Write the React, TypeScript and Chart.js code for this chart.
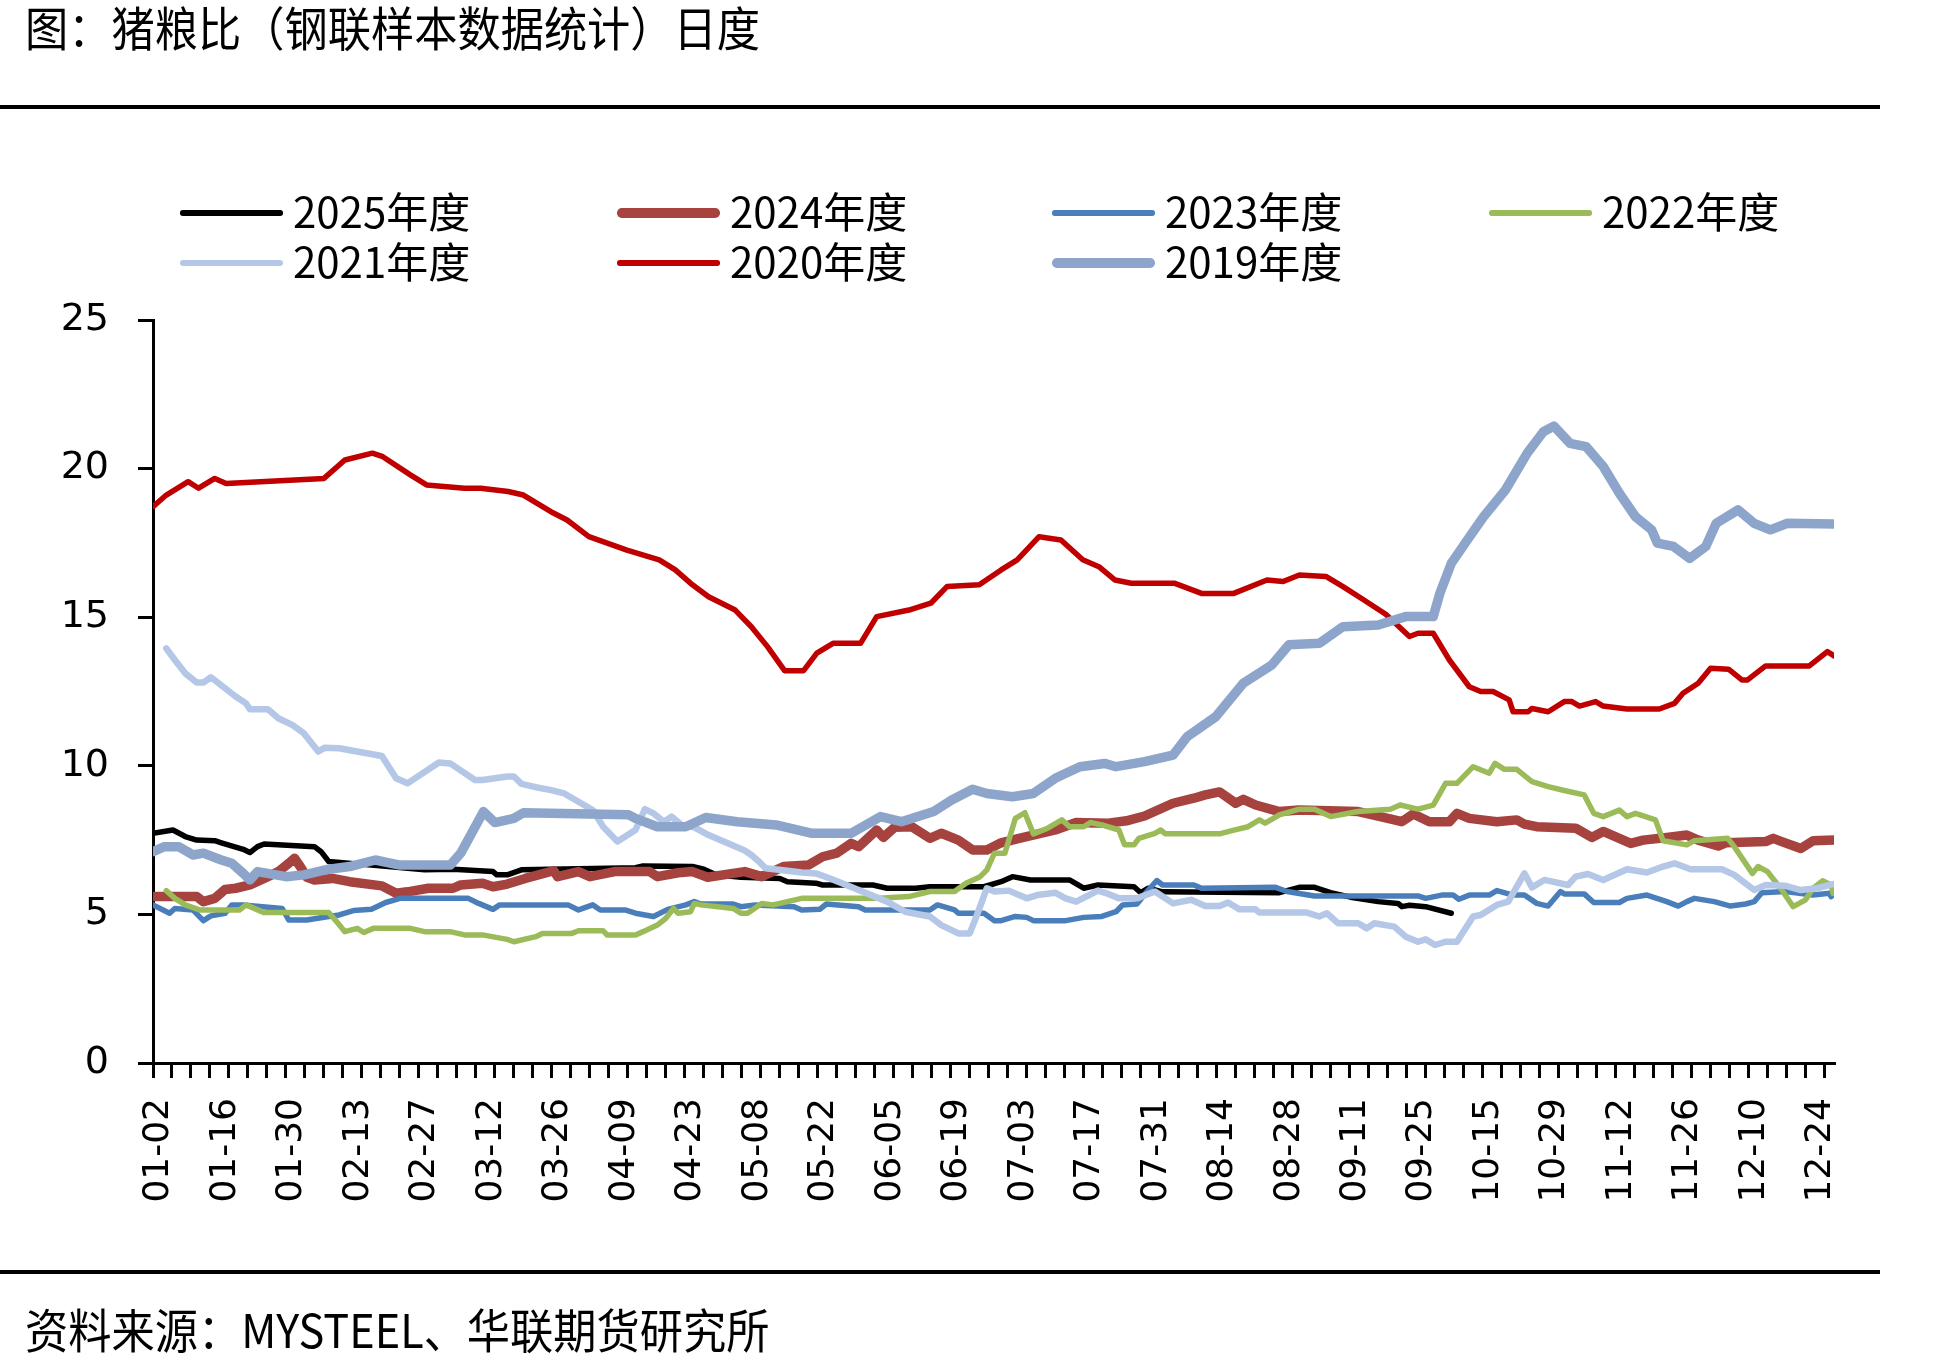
import React, { useEffect, useRef } from 'react';
import { Chart, registerables } from 'chart.js';

Chart.register(...registerables);

// ---------- DATA ----------
const xTickLabels = [
  '01-02', '01-16', '01-30', '02-13', '02-27', '03-12', '03-26', '04-09', '04-23',
  '05-08', '05-22', '06-05', '06-19', '07-03', '07-17', '07-31', '08-14', '08-28',
  '09-11', '09-25', '10-15', '10-29', '11-12', '11-26', '12-10', '12-24',
];
const LABEL_EVERY = 7; // one date label every 7 categories
const TICK_EVERY = 2; // one tick mark every 2 categories
const X_LAST = 177; // last category index

const seriesNames = ['2025年度', '2024年度', '2023年度', '2022年度', '2021年度', '2020年度', '2019年度'];

const s2025: [number, number][] = [
  [0, 7.73], [2.1, 7.84], [3.4, 7.62], [4.6, 7.5], [6.5, 7.48], [7.2, 7.41], [9.5, 7.19], [10.2, 7.08],
  [11, 7.28], [11.7, 7.37], [17, 7.28], [17.7, 7.11], [18.5, 6.78], [21.5, 6.7], [28.6, 6.5], [31.6, 6.52],
  [35.8, 6.44], [36.2, 6.33], [37.3, 6.33], [38.8, 6.5], [50.8, 6.57], [51.6, 6.63], [56.8, 6.61], [58, 6.52],
  [59.3, 6.33], [61.9, 6.25], [66, 6.21], [66.8, 6.1], [69.8, 6.05], [70.5, 5.99], [75.8, 5.99], [77.3, 5.88],
  [80.3, 5.88], [81.8, 5.93], [87.5, 5.93], [89.3, 6.1], [90.5, 6.27], [92.4, 6.16], [96.5, 6.16], [98, 5.88],
  [99.5, 5.99], [103.3, 5.93], [104, 5.73], [104.8, 5.88], [106.3, 5.76], [118.6, 5.73], [120.7, 5.91],
  [122.3, 5.91], [124, 5.73], [126.1, 5.58], [129, 5.43], [131.1, 5.37], [131.5, 5.26], [132.3, 5.31],
  [134, 5.26], [136.7, 5.04],
];

const s2024: [number, number][] = [
  [0, 5.6], [4.6, 5.6], [5.3, 5.43], [6.5, 5.54], [7.6, 5.84], [8.7, 5.88], [10.2, 5.99], [11.7, 6.21],
  [13.2, 6.44], [14.3, 6.72], [14.9, 6.89], [15.5, 6.61], [16.2, 6.25], [17, 6.16], [18.9, 6.21], [20.7, 6.1],
  [24.1, 5.96], [25.6, 5.71], [26.8, 5.76], [29, 5.88], [31.6, 5.88], [32.4, 5.99], [34.7, 6.05], [35.8, 5.93],
  [37.3, 6.02], [39.2, 6.21], [42.2, 6.47], [42.6, 6.27], [44.8, 6.44], [46, 6.27], [48.6, 6.44], [52.3, 6.44],
  [53.1, 6.27], [55.3, 6.4], [56.8, 6.44], [58.4, 6.25], [62.3, 6.44], [64.1, 6.27], [66.4, 6.61], [69, 6.66],
  [70.5, 6.94], [72, 7.06], [73.5, 7.39], [74.3, 7.28], [76.2, 7.84], [76.9, 7.59], [78.1, 7.93], [79.9, 7.95],
  [81.8, 7.56], [83, 7.73], [84.8, 7.5], [86.3, 7.17], [87.8, 7.17], [89.3, 7.41], [91.2, 7.56], [95, 7.84],
  [97.2, 8.09], [100.6, 8.07], [102.5, 8.15], [104.4, 8.31], [107.4, 8.74], [109.6, 8.91], [110.8, 9.02],
  [112.3, 9.12], [114, 8.74], [114.8, 8.87], [116.1, 8.68], [118.6, 8.46], [120.7, 8.51], [126.9, 8.46],
  [129, 8.31], [131.5, 8.12], [132.7, 8.38], [134.4, 8.12], [136.5, 8.12], [137.3, 8.4], [138.6, 8.23],
  [141.5, 8.12], [143.6, 8.18], [144.4, 8.04], [145.7, 7.95], [149.8, 7.9], [151.5, 7.59], [152.7, 7.79],
  [155.6, 7.39], [156.9, 7.5], [159.4, 7.59], [161.5, 7.67], [162.7, 7.5], [164.8, 7.3], [165.6, 7.41],
  [169.8, 7.45], [170.6, 7.56], [171.5, 7.45], [173.5, 7.22], [174.8, 7.48], [177, 7.5],
];

const s2023: [number, number][] = [
  [0, 5.32], [1.75, 5.04], [2.3, 5.2], [4.2, 5.15], [5.3, 4.79], [6.1, 4.95], [7.6, 5.04], [8.3, 5.32],
  [9.5, 5.32], [13.6, 5.2], [14.3, 4.81], [16.2, 4.81], [18.5, 4.93], [19.6, 4.98], [21.1, 5.13], [23, 5.17],
  [24.5, 5.4], [26, 5.54], [33.2, 5.54], [34.3, 5.37], [35.8, 5.17], [36.5, 5.32], [43.7, 5.32], [44.8, 5.15],
  [46.3, 5.32], [47.1, 5.15], [49.7, 5.15], [50.8, 5.04], [52.7, 4.93], [54.2, 5.17], [56.1, 5.32], [57, 5.43],
  [57.7, 5.35], [61.1, 5.35], [61.9, 5.26], [63.4, 5.32], [67.5, 5.26], [68.3, 5.15], [70.2, 5.17],
  [70.9, 5.35], [74.3, 5.26], [75, 5.15], [81.8, 5.15], [82.6, 5.32], [84.4, 5.15], [84.8, 5.04], [87.5, 5.04],
  [88.6, 4.79], [89.3, 4.79], [90.8, 4.93], [92, 4.9], [92.7, 4.79], [96.1, 4.79], [98, 4.9], [99.9, 4.93],
  [101.4, 5.09], [102.1, 5.32], [103.6, 5.35], [104.8, 5.82], [105.7, 6.14], [106.3, 5.99], [109.6, 5.99],
  [110.4, 5.88], [118.2, 5.91], [119.4, 5.77], [122.3, 5.62], [133.2, 5.62], [134, 5.54], [135.7, 5.65],
  [136.9, 5.65], [137.5, 5.51], [138.6, 5.65], [140.7, 5.65], [141.5, 5.8], [143.2, 5.65], [144.4, 5.65],
  [145.7, 5.37], [146.9, 5.28], [148.2, 5.77], [148.6, 5.69], [150.7, 5.69], [151.7, 5.4], [154.4, 5.4],
  [155.2, 5.54], [157.3, 5.65], [159.4, 5.43], [160.6, 5.28], [161.5, 5.43], [162.3, 5.54], [164.4, 5.43],
  [166.1, 5.28], [167.7, 5.35], [168.6, 5.43], [169.4, 5.73], [171.9, 5.77], [174.8, 5.65], [176.5, 5.71],
  [176.7, 5.6],
];

const s2022: [number, number][] = [
  [1.4, 5.8], [2.3, 5.54], [3.4, 5.32], [4.9, 5.15], [9.1, 5.15], [9.8, 5.32], [11.7, 5.06], [18.5, 5.06],
  [19.2, 4.81], [20.2, 4.42], [21.5, 4.53], [22.2, 4.39], [23.2, 4.53], [27.1, 4.53], [28.6, 4.42],
  [31.3, 4.42], [32.8, 4.31], [34.7, 4.31], [37.3, 4.16], [38, 4.08], [40.3, 4.25], [41, 4.36], [44.1, 4.36],
  [44.8, 4.45], [47.4, 4.45], [47.8, 4.31], [50.8, 4.31], [51.6, 4.42], [53.1, 4.64], [54, 4.87], [54.8, 5.2],
  [55.3, 5.04], [56.6, 5.09], [57, 5.37], [57.7, 5.32], [61.1, 5.2], [61.9, 5.04], [62.6, 5.04], [64.1, 5.37],
  [65.3, 5.32], [68.3, 5.54], [76.5, 5.54], [79.6, 5.6], [81.8, 5.77], [84.4, 5.77], [85.6, 6.05], [87.1, 6.27],
  [87.8, 6.5], [88.6, 7.06], [89.7, 7.06], [90.8, 8.23], [91.8, 8.42], [92.7, 7.71], [94.2, 7.9], [95.7, 8.18],
  [96.5, 7.95], [98, 7.95], [98.7, 8.09], [99.9, 8.01], [101.7, 7.84], [102.3, 7.34], [103.3, 7.34],
  [103.8, 7.56], [105.5, 7.73], [106.1, 7.84], [106.6, 7.71], [112.3, 7.71], [113.6, 7.82], [115.3, 7.95],
  [116.5, 8.18], [117.1, 8.07], [118.6, 8.35], [120.7, 8.54], [122.3, 8.54], [124, 8.29], [126.9, 8.46],
  [130.3, 8.54], [131.3, 8.68], [133.2, 8.54], [134.8, 8.68], [136.1, 9.41], [137.3, 9.41], [139, 9.97],
  [140.7, 9.75], [141.3, 10.08], [142.3, 9.88], [143.6, 9.88], [145.2, 9.47], [146.9, 9.3], [148.6, 9.17],
  [150.7, 9.02], [151.7, 8.4], [152.7, 8.29], [154.4, 8.51], [155.2, 8.29], [156.1, 8.4], [158.2, 8.18],
  [159, 7.48], [161.5, 7.34], [162.3, 7.48], [165.8, 7.56], [166.5, 7.28], [168.4, 6.38], [169, 6.61],
  [170, 6.44], [171.5, 5.82], [172.7, 5.26], [174, 5.49], [174.8, 5.88], [175.8, 6.13], [176.7, 5.99],
  [176.9, 5.71],
];

const s2021: [number, number][] = [
  [1.4, 13.95], [2.3, 13.56], [3.4, 13.11], [4.6, 12.8], [5.3, 12.8], [6.1, 12.98], [8.7, 12.33], [9.8, 12.1],
  [10.2, 11.9], [12.1, 11.9], [13.2, 11.6], [14.7, 11.37], [15.9, 11.09], [17.4, 10.48], [18.1, 10.61],
  [19.6, 10.59], [24.1, 10.33], [25.6, 9.58], [26.8, 9.41], [30.1, 10.11], [31.3, 10.08], [33.9, 9.52],
  [34.7, 9.52], [37.3, 9.64], [38, 9.64], [38.8, 9.39], [40.3, 9.28], [41.8, 9.19], [43.3, 9.07], [44.8, 8.79],
  [46.3, 8.51], [47.4, 7.95], [48.9, 7.45], [50.8, 7.84], [51.8, 8.54], [52.7, 8.4], [53.8, 8.12], [54.6, 8.29],
  [55.7, 8.0], [57, 7.93], [58.5, 7.67], [60.4, 7.41], [62.3, 7.15], [63, 7.0], [63.8, 6.78], [64.5, 6.55],
  [66.8, 6.47], [68.3, 6.41], [69.8, 6.38], [71.3, 6.21], [74.3, 5.82], [77.3, 5.43], [79.2, 5.09], [81.8, 4.93],
  [83, 4.64], [84.8, 4.36], [86, 4.36], [86.7, 4.93], [87.8, 5.88], [88.6, 5.77], [90.1, 5.8], [92, 5.54],
  [93.1, 5.65], [95, 5.73], [96.1, 5.54], [97.2, 5.43], [99.5, 5.8], [100.6, 5.69], [101.7, 5.54],
  [103.6, 5.54], [105.5, 5.77], [107.4, 5.37], [109.3, 5.49], [110.8, 5.28], [112.3, 5.28], [113.2, 5.4],
  [114.4, 5.17], [116.1, 5.17], [116.5, 5.06], [121.5, 5.06], [122.8, 4.93], [123.6, 5.04], [124.8, 4.7],
  [126.9, 4.7], [127.8, 4.53], [128.6, 4.7], [130.7, 4.59], [131.9, 4.25], [133.2, 4.08], [134, 4.16],
  [135, 3.97], [136.1, 4.08], [137.3, 4.08], [139, 4.93], [139.8, 4.98], [141.5, 5.32], [142.7, 5.43],
  [144.4, 6.38], [145.2, 5.91], [146.5, 6.16], [149, 5.99], [149.8, 6.27], [151.1, 6.36], [152.7, 6.16],
  [155.2, 6.52], [157.3, 6.41], [159, 6.61], [160.2, 6.72], [161.9, 6.52], [165.2, 6.52], [166.5, 6.33],
  [168.6, 5.82], [169.8, 5.99], [171.9, 5.96], [173.5, 5.82], [175.2, 5.88], [176.9, 6.02],
];

const s2020: [number, number][] = [
  [0, 18.72], [1.4, 19.11], [3.7, 19.56], [4.8, 19.34], [6.5, 19.67], [7.7, 19.5], [18, 19.67], [20.2, 20.29],
  [23.1, 20.52], [24.2, 20.4], [27.1, 19.79], [28.8, 19.45], [32.8, 19.34], [34.5, 19.34], [37.4, 19.23],
  [39, 19.11], [41.9, 18.55], [43.6, 18.27], [45.9, 17.71], [49.9, 17.26], [53.3, 16.93], [55, 16.59],
  [56.8, 16.09], [58.5, 15.69], [61.3, 15.24], [63, 14.68], [64.7, 14.01], [66.5, 13.2], [68.5, 13.2],
  [69.9, 13.79], [71.6, 14.12], [74.5, 14.12], [76.2, 15.02], [79.6, 15.24], [81.9, 15.47], [83.6, 16.03],
  [87, 16.09], [89.3, 16.59], [91, 16.93], [93.3, 17.71], [95.6, 17.6], [97.9, 16.93], [99.6, 16.7],
  [101.3, 16.25], [103, 16.14], [107.6, 16.14], [110.4, 15.8], [113.8, 15.8], [117.3, 16.25], [119, 16.2],
  [120.7, 16.42], [123.5, 16.37], [125.3, 16.03], [127.5, 15.58], [129.8, 15.1], [132.3, 14.35],
  [133.2, 14.46], [134.8, 14.46], [136.5, 13.56], [138.6, 12.66], [139.8, 12.5], [141.1, 12.5], [142.8, 12.22],
  [143.2, 11.82], [144.8, 11.82], [145.2, 11.93], [146.9, 11.82], [148.6, 12.16], [149.4, 12.16],
  [150.2, 12.01], [151.9, 12.16], [152.7, 12.01], [155.2, 11.91], [158.6, 11.91], [160.2, 12.1],
  [161.1, 12.44], [162.7, 12.78], [164, 13.28], [165.9, 13.25], [167.3, 12.89], [167.9, 12.89],
  [169.8, 13.36], [174.4, 13.36], [176.3, 13.84], [177, 13.7],
];

const s2019: [number, number][] = [
  [0, 7.11], [1.2, 7.28], [2.7, 7.28], [4.2, 7.0], [5.3, 7.06], [7.2, 6.83], [8.3, 6.72], [9.5, 6.38],
  [10.2, 6.16], [11, 6.44], [14, 6.27], [15.9, 6.33], [18.5, 6.52], [20.7, 6.61], [23.4, 6.83], [26, 6.66],
  [31.3, 6.66], [32.4, 7.06], [34.8, 8.46], [36, 8.09], [38, 8.23], [39, 8.42], [50.1, 8.35], [50.8, 8.23],
  [53.1, 7.95], [56.1, 7.95], [58.2, 8.26], [61.5, 8.12], [65.6, 8.01], [69.4, 7.73], [73.5, 7.73],
  [76.6, 8.29], [78.8, 8.12], [82.2, 8.46], [84.1, 8.85], [86.3, 9.21], [87.8, 9.07], [90.5, 8.96],
  [92.7, 9.07], [95, 9.58], [97.6, 9.97], [100.2, 10.08], [101.4, 9.97], [104.4, 10.14], [107.4, 10.36],
  [108.9, 10.98], [111.9, 11.65], [114.8, 12.78], [117.8, 13.39], [119.6, 14.07], [122.8, 14.12],
  [125.3, 14.68], [129, 14.74], [131.9, 15.02], [134.8, 15.02], [135.5, 15.8], [136.7, 16.81], [138.4, 17.6],
  [140.1, 18.38], [142.4, 19.28], [144.7, 20.52], [146.4, 21.24], [147.5, 21.43], [149.2, 20.85],
  [150.9, 20.74], [152.7, 20.07], [154.4, 19.17], [156.1, 18.38], [157.8, 17.94], [158.4, 17.49],
  [160.1, 17.38], [161.8, 16.98], [163.5, 17.38], [164.6, 18.16], [166.9, 18.61], [168.6, 18.16],
  [170.3, 17.94], [172.1, 18.16], [177, 18.14],
];

const seriesData = [s2025, s2024, s2023, s2022, s2021, s2020, s2019];

// ---------- STYLE ----------
const seriesColors = ['#000000', '#A6433F', '#4A7EBB', '#9BBB59', '#B4C7E7', '#C00000', '#8EA5CB'];
const seriesWidths = [5.5, 9.5, 5.5, 5.5, 6.5, 5.5, 9.5];

const W = 1946;
const H = 1364;
const PLOT_LEFT = 153;
const PLOT_RIGHT = 1834;
const PLOT_TOP = 320;
const PLOT_BOTTOM = 1063;

const CJK = '"Noto Sans CJK SC", "Noto Sans", sans-serif';
const NUM_FONT = '"DejaVu Sans", sans-serif';

const legendCols = [180, 617, 1052, 1489];
const legendRows = [213, 263];
const legendLineLen = 103;
const legendTextGap = 10;

function buildXTicks(): number[] {
  const set = new Set<number>();
  for (let v = 0; v <= X_LAST; v += TICK_EVERY) set.add(v);
  for (let i = 0; i < xTickLabels.length; i++) set.add(i * LABEL_EVERY);
  return Array.from(set).sort((a, b) => a - b);
}

export default function App() {
  const canvasRef = useRef<HTMLCanvasElement | null>(null);

  useEffect(() => {
    const canvas = canvasRef.current;
    if (!canvas) return;
    const xTicks = buildXTicks();

    const chart = new Chart(canvas, {
      type: 'line',
      data: {
        datasets: seriesData.map((s, i) => ({
          label: seriesNames[i],
          data: s.map(([x, y]) => ({ x, y })),
          borderColor: seriesColors[i],
          backgroundColor: seriesColors[i],
          borderWidth: seriesWidths[i],
          pointRadius: 0,
          pointHoverRadius: 0,
          tension: 0,
          fill: false,
          borderJoinStyle: 'round' as const,
          borderCapStyle: 'round' as const,
          order: seriesData.length - 1 - i,
        })),
      },
      options: {
        responsive: false,
        maintainAspectRatio: false,
        animation: false,
        events: [],
        layout: {
          padding: { top: PLOT_TOP, right: W - PLOT_RIGHT, left: 0, bottom: 0 },
        },
        plugins: {
          legend: { display: false },
          tooltip: { enabled: false },
          title: { display: false },
        },
        scales: {
          x: {
            type: 'linear',
            min: 0,
            max: X_LAST,
            afterBuildTicks: (scale: any) => {
              scale.ticks = xTicks.map((v) => ({ value: v }));
            },
            afterFit: (scale: any) => {
              scale.height = H - PLOT_BOTTOM;
            },
            grid: {
              drawOnChartArea: false,
              drawTicks: true,
              tickLength: 15,
              lineWidth: 3,
              color: (ctx: any) =>
                ctx.tick && Math.round(ctx.tick.value) % TICK_EVERY === 0 ? '#000' : 'rgba(0,0,0,0)',
            },
            border: { display: true, color: '#000', width: 3 },
            ticks: {
              autoSkip: false,
              minRotation: 90,
              maxRotation: 90,
              padding: 20,
              labelOffset: 6,
              color: '#000',
              font: { family: NUM_FONT, size: 36 },
              callback: (v: any) => {
                const n = Math.round(Number(v));
                if (n % LABEL_EVERY !== 0) return '';
                return xTickLabels[n / LABEL_EVERY] ?? '';
              },
            },
          },
          y: {
            type: 'linear',
            min: 0,
            max: 25,
            afterFit: (scale: any) => {
              scale.width = PLOT_LEFT;
            },
            grid: {
              drawOnChartArea: false,
              drawTicks: true,
              tickLength: 15,
              lineWidth: 3,
              color: '#000',
            },
            border: { display: true, color: '#000', width: 3 },
            ticks: {
              stepSize: 5,
              padding: 29,
              color: '#000',
              font: { family: NUM_FONT, size: 38 },
            },
          },
        },
      },
    });

    return () => {
      chart.destroy();
    };
  }, []);

  return (
    <div
      style={{
        position: 'absolute',
        left: 0,
        top: 0,
        width: W,
        height: H,
        background: '#fff',
        overflow: 'hidden',
      }}
    >
      <canvas
        ref={canvasRef}
        width={W}
        height={H}
        style={{ position: 'absolute', left: 0, top: 0, width: W, height: H }}
      />
      <div
        style={{
          position: 'absolute',
          left: 25,
          top: 2,
          fontFamily: CJK,
          fontSize: 47,
          lineHeight: '47px',
          color: '#000',
          whiteSpace: 'nowrap',
          transform: 'scaleX(0.92)',
          transformOrigin: 'left top',
        }}
      >
        图：猪粮比（钢联样本数据统计）日度
      </div>
      <div style={{ position: 'absolute', left: 0, top: 105, width: 1880, height: 4, background: '#000' }} />
      {seriesNames.map((name, i) => {
        const col = i % 4;
        const row = Math.floor(i / 4);
        const cx = legendCols[col];
        const cy = legendRows[row];
        const lw = seriesWidths[i];
        return (
          <React.Fragment key={name}>
            <div
              style={{
                position: 'absolute',
                left: cx,
                top: cy - lw / 2,
                width: legendLineLen,
                height: lw,
                borderRadius: lw / 2,
                background: seriesColors[i],
              }}
            />
            <div
              style={{
                position: 'absolute',
                left: cx + legendLineLen + legendTextGap,
                top: cy - 24,
                fontFamily: CJK,
                fontSize: 42,
                lineHeight: '42px',
                color: '#000',
                whiteSpace: 'nowrap',
              }}
            >
              {name}
            </div>
          </React.Fragment>
        );
      })}
      <div style={{ position: 'absolute', left: 0, top: 1270, width: 1880, height: 4, background: '#000' }} />
      <div
        style={{
          position: 'absolute',
          left: 25,
          top: 1304,
          fontFamily: CJK,
          fontSize: 47,
          lineHeight: '47px',
          color: '#000',
          whiteSpace: 'nowrap',
          transform: 'scaleX(0.92)',
          transformOrigin: 'left top',
        }}
      >
        资料来源：MYSTEEL、华联期货研究所
      </div>
    </div>
  );
}
